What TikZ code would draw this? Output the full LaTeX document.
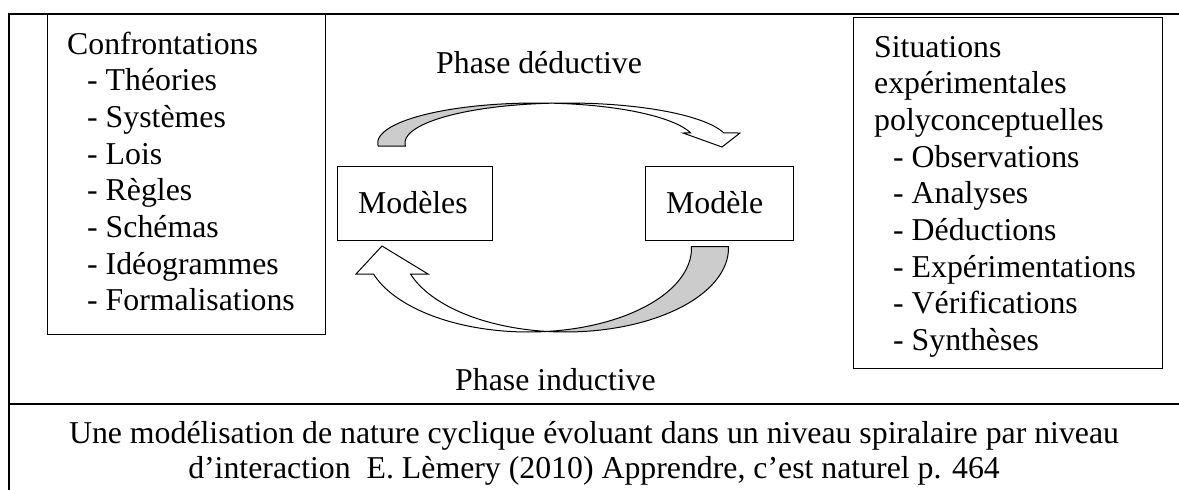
\documentclass[tikz,border=0pt]{standalone}
\usepackage{fontspec}
\setmainfont{Liberation Serif}
\definecolor{shade}{RGB}{204,204,204}
\begin{document}
\begin{tikzpicture}[x=1pt,y=-1pt,
  frame/.style={line width=1.4pt},
  boxst/.style={draw,line width=1.4pt,inner sep=0pt,anchor=north west},
  txt/.style={anchor=base west,inner sep=0pt,font=\fontsize{31.8}{36.7}\selectfont},
  ctxt/.style={anchor=base,inner sep=0pt,font=\fontsize{31.8}{36.7}\selectfont},
  backpart/.style={fill=shade,draw=black,line width=1pt,line join=miter},
  frontpart/.style={fill=white,draw=black,line width=1pt,line join=miter}]
\useasboundingbox (0,0) rectangle (1179,490);
% outer frame
\draw[frame] (1179,14) -- (9,14) -- (9,490);
\draw[frame] (9,404) -- (1179,404);
% left box
\node[boxst,minimum width=278pt,minimum height=320pt] (leftbox) at (47,14) {};
\node[txt] (c0) at (67,54) {Confrontations};
\foreach \t [count=\i] in {Théories,Systèmes,Lois,Règles,Schémas,Idéogrammes,Formalisations}
  \node[txt] (c\i) at (87,{54+\i*36.7}) {- \t};
% right box
\node[boxst,minimum width=309pt,minimum height=351pt] (rightbox) at (853,17) {};
\node[txt] (s0) at (874,57) {Situations};
\node[txt] (s1) at (874,93.7) {expérimentales};
\node[txt] (s2) at (874,130.4) {polyconceptuelles};
\foreach \t [count=\i from 3] in {Observations,Analyses,Déductions,Expérimentations,Vérifications,Synthèses}
  \node[txt] (s\i) at (893,{57+\i*36.7}) {- \t};
% model boxes
\node[boxst,minimum width=155pt,minimum height=74pt] (modeles) at (337,166) {};
\node[txt] (modelestxt) at (358,213) {Modèles};
\node[boxst,minimum width=148pt,minimum height=74pt] (modele) at (645,166) {};
\node[txt] (modeletxt) at (666,213) {Modèle};
% phase labels
\node[txt] (deductive) at (436,73) {Phase déductive};
\node[txt] (inductive) at (455,390.5) {Phase inductive};
% top curved arrow
\filldraw[backpart] plot[domain=184.3:84.6,samples=60] ({536.75+159*cos(\x)},{143-40*sin(\x)})
  -- plot[domain=95.4:184.3,samples=60] ({567+162*cos(\x)},{143-40*sin(\x)}) -- cycle;
\filldraw[frontpart] plot[domain=95.4:14.5,samples=60] ({567+162*cos(\x)},{143-40*sin(\x)})
  -- (740,133) -- (722,147) -- (683,133)
  -- plot[domain=14.5:84.6,samples=60] ({536.75+159*cos(\x)},{143-40*sin(\x)}) -- cycle;
% bottom curved arrow
\filldraw[backpart] plot[domain=-1:96.5,samples=60] ({565.5+163*cos(\x)},{248+84*sin(\x)})
  -- plot[domain=83.5:-1,samples=60] ({528.5+163*cos(\x)},{248+84*sin(\x)}) -- cycle;
\filldraw[frontpart] plot[domain=83.5:161.97,samples=60] ({528.5+163*cos(\x)},{248+84*sin(\x)})
  -- (356,274) -- (382,246) -- (428,274)
  -- plot[domain=161.97:96.5,samples=60] ({565.5+163*cos(\x)},{248+84*sin(\x)}) -- cycle;
% caption
\node[ctxt] (cap1) at (594,443) {Une modélisation de nature cyclique évoluant dans un niveau spiralaire par niveau};
\node[ctxt] (cap2) at (594,478) {d’interaction\ \ E. Lèmery (2010) Apprendre, c’est naturel p. 464};
\end{tikzpicture}
\end{document}
